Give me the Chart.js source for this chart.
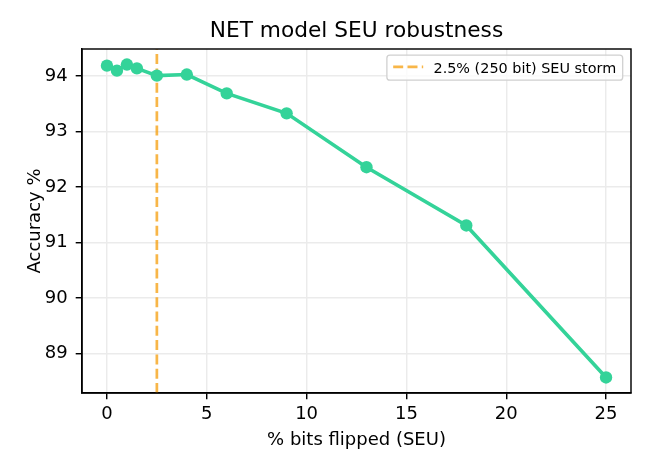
<!DOCTYPE html>
<html>
<head>
<meta charset="utf-8">
<script src="https://cdn.jsdelivr.net/npm/chart.js@4/dist/chart.umd.min.js"></script>
<style>
  html, body { margin: 0; padding: 0; background: #ffffff; }
  #wrap { width: 650px; height: 468px; position: relative; }
</style>
</head>
<body>
<div id="wrap"><canvas id="c"></canvas></div>
<script>
// ---- data ----
const bitsFlipped = [0, 0.5, 1, 1.5, 2.5, 4, 6, 9, 13, 18, 25];
const accuracy = [94.19, 94.10, 94.21, 94.14, 94.01, 94.03, 93.69, 93.33, 92.36, 91.31, 88.57];
const stormX = 2.5;
const stormLabel = '2.5% (250 bit) SEU storm';
const chartTitle = 'NET model SEU robustness';
const xTicks = [0, 5, 10, 15, 20, 25];
const yTicks = [89, 90, 91, 92, 93, 94];
const xLimits = [-1.25, 26.25];
const yLimits = [88.29, 94.49];

const FONT = 'DejaVu Sans';
const GREEN = '#34d399';
const ORANGE = 'rgba(245,158,11,0.75)';

const framePlugin = {
  id: 'frameAndLegend',
  afterDraw(chart) {
    const { ctx, chartArea: a } = chart;
    ctx.save();
    // title centred over the axes
    ctx.fillStyle = '#000';
    ctx.font = '21.7px "' + FONT + '"';
    ctx.textAlign = 'center';
    ctx.textBaseline = 'alphabetic';
    ctx.fillText(chartTitle, (a.left + a.right) / 2, a.top - 11.7);
    // spines
    ctx.strokeStyle = '#000';
    ctx.lineWidth = 1.44;
    ctx.setLineDash([]);
    ctx.strokeRect(a.left, a.top, a.right - a.left, a.bottom - a.top);
    // legend
    ctx.font = '14.4px "' + FONT + '"';
    const tw = ctx.measureText(stormLabel).width;
    const right = a.right - 8.3;
    const top = a.top + 6.2;
    const h = 25;
    const w = 6.3 + 30 + 10.3 + tw + 6.5;
    const left = right - w;
    const r = 3;
    ctx.beginPath();
    ctx.moveTo(left + r, top);
    ctx.lineTo(right - r, top);
    ctx.arcTo(right, top, right, top + r, r);
    ctx.lineTo(right, top + h - r);
    ctx.arcTo(right, top + h, right - r, top + h, r);
    ctx.lineTo(left + r, top + h);
    ctx.arcTo(left, top + h, left, top + h - r, r);
    ctx.lineTo(left, top + r);
    ctx.arcTo(left, top, left + r, top, r);
    ctx.closePath();
    ctx.fillStyle = 'rgba(255,255,255,0.8)';
    ctx.fill();
    ctx.strokeStyle = '#d0d0d0';
    ctx.lineWidth = 1.3;
    ctx.stroke();
    // handle
    ctx.beginPath();
    ctx.strokeStyle = ORANGE;
    ctx.lineWidth = 2.7;
    ctx.setLineDash([10, 4.3]);
    ctx.moveTo(left + 6.3, top + 11.7);
    ctx.lineTo(left + 6.3 + 30, top + 11.7);
    ctx.stroke();
    ctx.setLineDash([]);
    ctx.fillStyle = '#000';
    ctx.textBaseline = 'alphabetic';
    ctx.textAlign = 'left';
    ctx.fillText(stormLabel, left + 6.3 + 30 + 10.3, top + 18.2);
    ctx.restore();
  }
};

new Chart(document.getElementById('c'), {
  type: 'line',
  data: {
    datasets: [
      {
        label: stormLabel,
        data: [{ x: stormX, y: yLimits[0] }, { x: stormX, y: yLimits[1] }],
        borderColor: ORANGE,
        borderWidth: 2.7,
        borderDash: [10, 4.3],
        pointRadius: 0,
        order: 2
      },
      {
        label: 'accuracy',
        data: bitsFlipped.map((x, i) => ({ x: x, y: accuracy[i] })),
        borderColor: GREEN,
        backgroundColor: GREEN,
        borderWidth: 3.6,
        pointRadius: 6.2,
        pointBorderWidth: 0,
        pointBackgroundColor: GREEN,
        tension: 0,
        order: 1
      }
    ]
  },
  options: {
    responsive: true,
    maintainAspectRatio: false,
    animation: false,
    events: [],
    layout: { padding: { left: 0, right: 19, top: 49, bottom: 0 } },
    plugins: {
      legend: { display: false },
      tooltip: { enabled: false },
      title: { display: false }
    },
    scales: {
      x: {
        type: 'linear',
        min: xLimits[0],
        max: xLimits[1],
        afterBuildTicks: (s) => { s.ticks = xTicks.map(v => ({ value: v })); },
        afterFit: (s) => { s.height = 75; },
        grid: { color: '#ebebeb', lineWidth: 1.44, tickColor: '#000', tickWidth: 1.44, tickLength: 6.3, drawTicks: true },
        border: { display: true, color: '#000', width: 1.44 },
        ticks: { color: '#000', font: { family: FONT, size: 18, lineHeight: 1.2 }, padding: 4.5, maxRotation: 0, autoSkip: false },
        title: { display: true, text: '% bits flipped (SEU)', color: '#000', font: { family: FONT, size: 18, lineHeight: 1.2 }, padding: { top: 0, bottom: 17.1 } }
      },
      y: {
        type: 'linear',
        min: yLimits[0],
        max: yLimits[1],
        afterBuildTicks: (s) => { s.ticks = yTicks.map(v => ({ value: v })); },
        afterFit: (s) => { s.width = 82; },
        grid: { color: '#ebebeb', lineWidth: 1.44, tickColor: '#000', tickWidth: 1.44, tickLength: 6.3, drawTicks: true },
        border: { display: true, color: '#000', width: 1.44 },
        ticks: { color: '#000', font: { family: FONT, size: 18, lineHeight: 1.2 }, padding: 8, autoSkip: false },
        title: { display: true, text: 'Accuracy %', color: '#000', font: { family: FONT, size: 18, lineHeight: 1.2 }, padding: { top: 24.2, bottom: 0 } }
      }
    }
  },
  plugins: [framePlugin]
});
</script>
</body>
</html>
